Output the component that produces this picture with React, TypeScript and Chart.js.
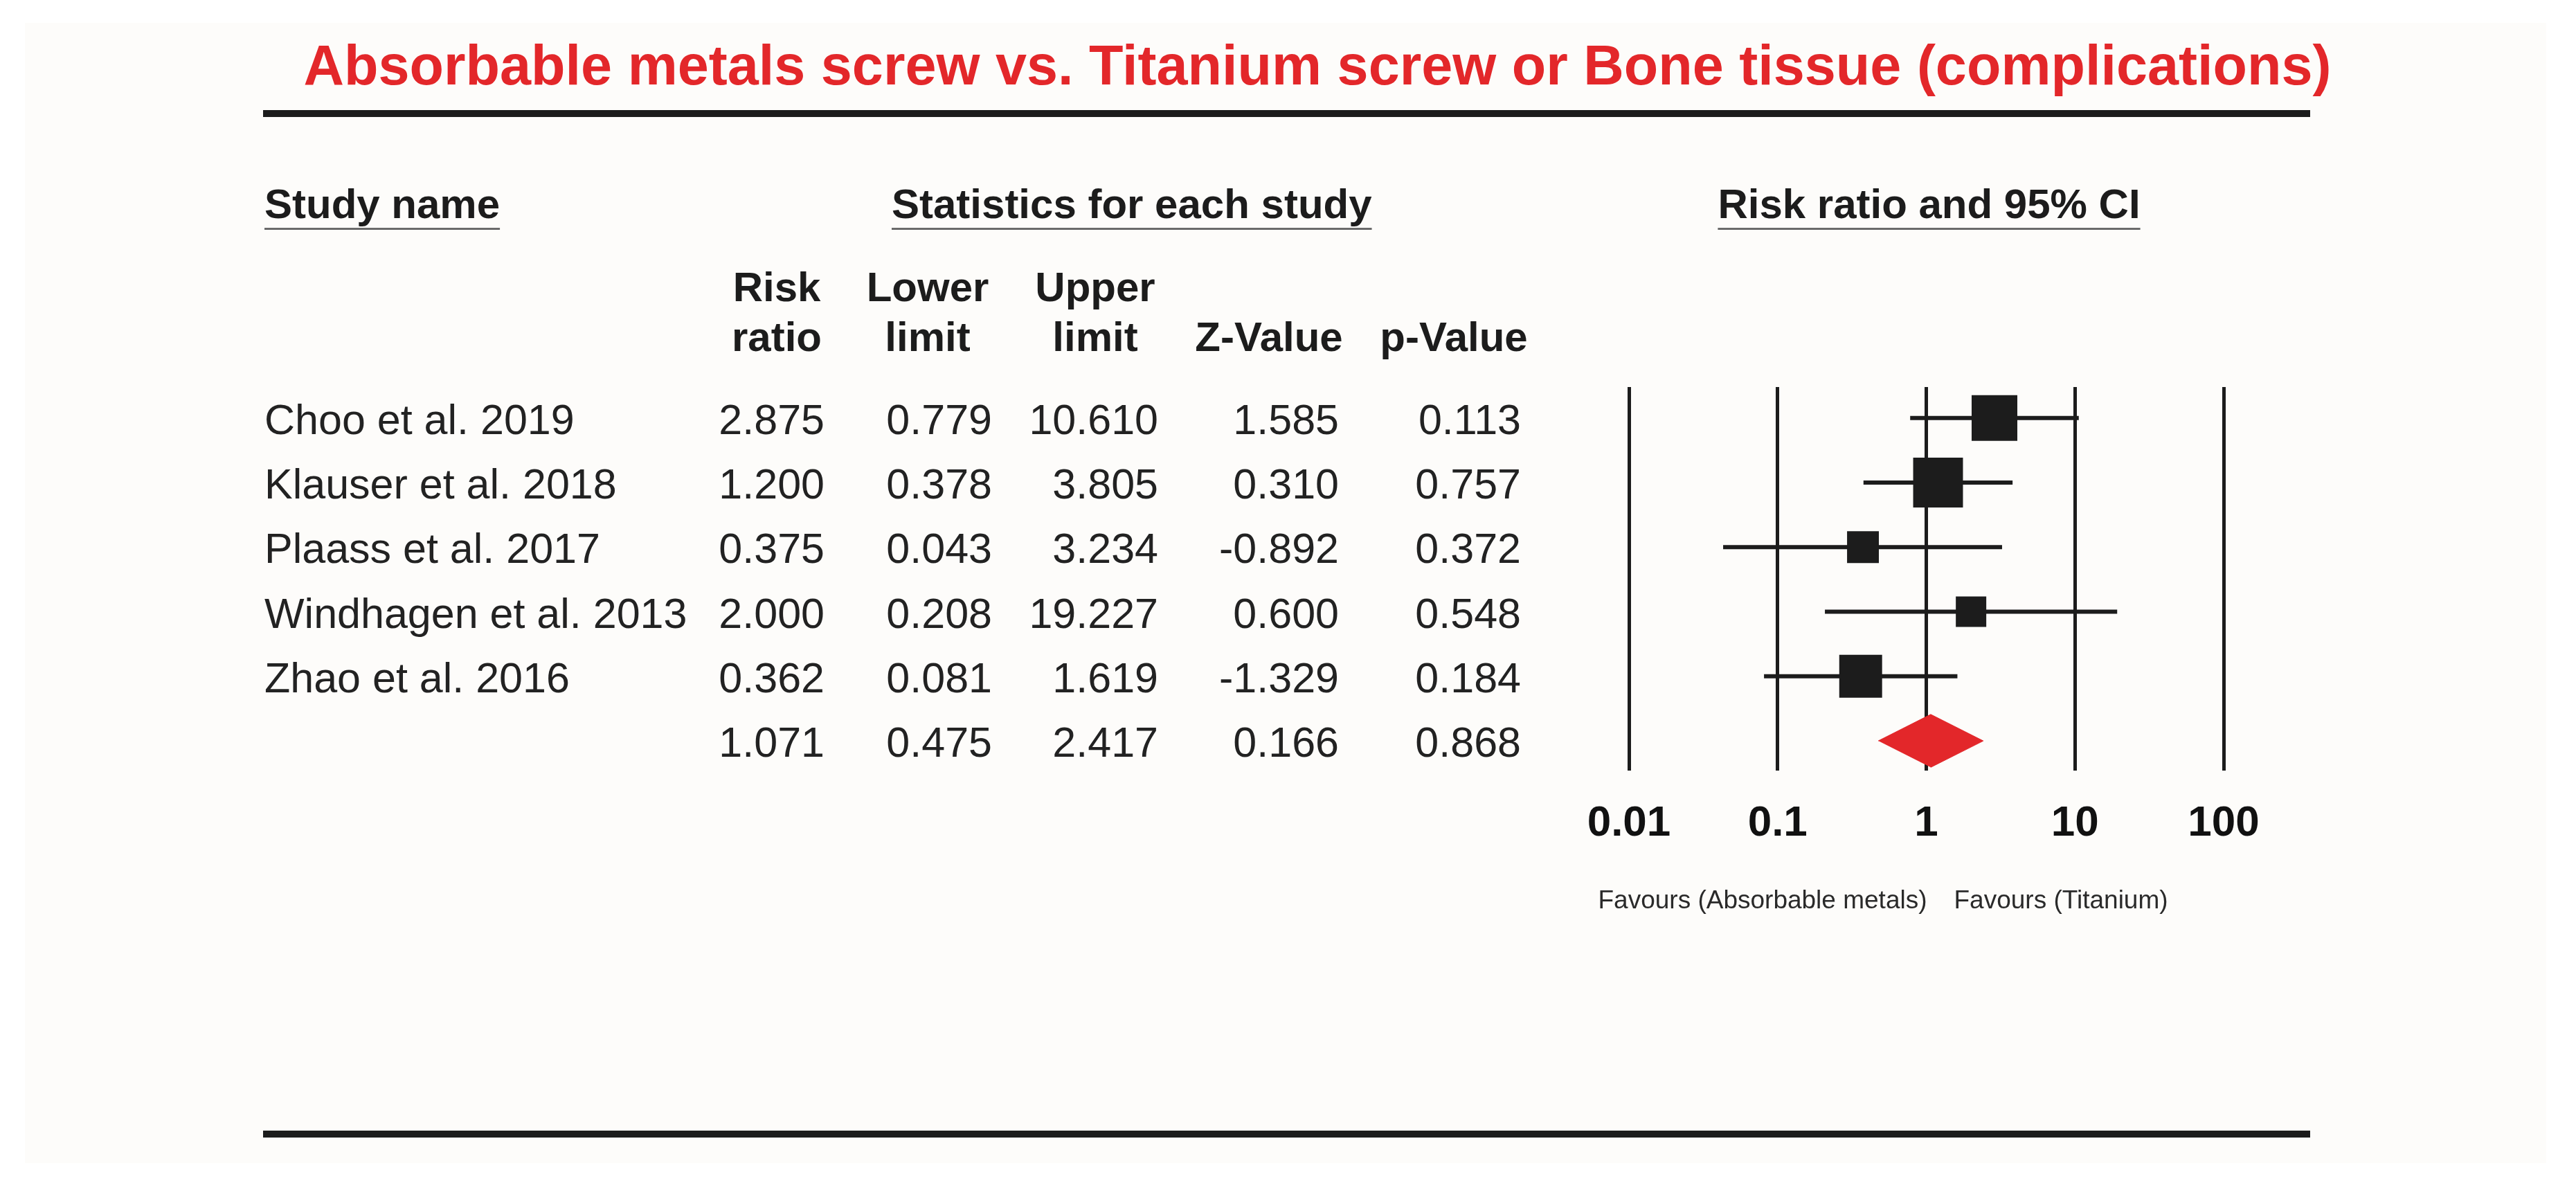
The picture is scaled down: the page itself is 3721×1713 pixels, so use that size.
import React, { useEffect, useRef } from 'react';
import { Chart, registerables } from 'chart.js';

Chart.register(...registerables);

// ---------------- data ----------------
const chartTitle = 'Absorbable metals screw vs. Titanium screw or Bone tissue (complications)';
const studyNames = ['Choo et al. 2019', 'Klauser et al. 2018', 'Plaass et al. 2017', 'Windhagen et al. 2013', 'Zhao et al. 2016'];
const riskRatios = [2.875, 1.2, 0.375, 2.0, 0.362];
const lowerLimits = [0.779, 0.378, 0.043, 0.208, 0.081];
const upperLimits = [10.61, 3.805, 3.234, 19.227, 1.619];
const zValues = [1.585, 0.31, -0.892, 0.6, -1.329];
const pValues = [0.113, 0.757, 0.372, 0.548, 0.184];
// relative study weights
const studyWeights = [25.0, 29.7, 12.1, 11.1, 22.0];
const summaryRiskRatio = 1.071;
const summaryLower = 0.475;
const summaryUpper = 2.417;
const summaryZ = 0.166;
const summaryP = 0.868;
const xTickValues = [0.01, 0.1, 1, 10, 100];
const xTickLabels = ['0.01', '0.1', '1', '10', '100'];
const sectionHeaders = ['Study name', 'Statistics for each study', 'Risk ratio and 95% CI'];
const columnHeadersTop = ['Risk', 'Lower', 'Upper', '', ''];
const columnHeadersBottom = ['ratio', 'limit', 'limit', 'Z-Value', 'p-Value'];
const favoursLeft = 'Favours (Absorbable metals)';
const favoursRight = 'Favours (Titanium)';

// ---------------- layout / style ----------------
const W = 3721;
const H = 1713;
const FONT = '"Liberation Sans", Arial, Helvetica, sans-serif';
const RED = '#e3272a';
const INK = '#1c1c1c';
const plotLeft = 2353;
const plotRight = 3212;
const plotTop = 559;
const plotBottom = 1113;
const xAxisHeight = 200;
const nameX = 382;
const colRight = [1191, 1433, 1673, 1934, 2197];
const colHeaderCenter = [1122, 1340, 1582, 1833, 2100];
const boxScale = 13.2;
const diamondHalf = 0.41;

const tablePlugin = {
  id: 'forestTable',
  beforeDraw(chart: any) {
    const ctx = chart.ctx;
    ctx.save();
    ctx.fillStyle = '#ffffff';
    ctx.fillRect(0, 0, W, H);
    ctx.fillStyle = '#fdfcfa';
    ctx.fillRect(36, 33, 3642, 1647);
    ctx.restore();
  },
  afterDraw(chart: any) {
    const ctx = chart.ctx;
    const xs = chart.scales.x;
    const ys = chart.scales.y;
    ctx.save();
    // title
    ctx.fillStyle = RED;
    ctx.font = `bold 81px ${FONT}`;
    ctx.textAlign = 'center';
    ctx.textBaseline = 'alphabetic';
    ctx.fillText(chartTitle, 1903, 122);
    // rules
    ctx.fillStyle = INK;
    ctx.fillRect(380, 159, 2957, 10);
    ctx.fillRect(380, 1633, 2957, 10);

    // section headers with underline
    ctx.font = `bold 60px ${FONT}`;
    ctx.fillStyle = INK;
    const headerPos: [number, CanvasTextAlign][] = [
      [nameX, 'left'],
      [1288, 'left'],
      [(xs.left + xs.right) / 2 + 4, 'center'],
    ];
    sectionHeaders.forEach((t, i) => {
      const [hx, align] = headerPos[i];
      ctx.textAlign = align;
      ctx.fillStyle = INK;
      ctx.fillText(t, hx, 315);
      const w = ctx.measureText(t).width;
      const lx = align === 'center' ? hx - w / 2 : hx;
      ctx.fillStyle = '#6a6a6a';
      ctx.fillRect(lx, 329, w, 3);
    });

    // column headers
    ctx.fillStyle = INK;
    ctx.textAlign = 'center';
    colHeaderCenter.forEach((cx, i) => {
      if (columnHeadersTop[i]) ctx.fillText(columnHeadersTop[i], cx, 435);
      ctx.fillText(columnHeadersBottom[i], cx, 507);
    });

    // rows
    ctx.font = `61px ${FONT}`;
    ctx.fillStyle = '#222222';
    const rowBaseline = (i: number) => ys.getPixelForValue(i) + 23;
    studyNames.forEach((name, i) => {
      const by = rowBaseline(i);
      ctx.textAlign = 'left';
      ctx.fillText(name, nameX, by);
      ctx.textAlign = 'right';
      const vals = [riskRatios[i], lowerLimits[i], upperLimits[i], zValues[i], pValues[i]];
      vals.forEach((v, c) => ctx.fillText(v.toFixed(3), colRight[c], by));
    });
    const sy = rowBaseline(studyNames.length);
    ctx.textAlign = 'right';
    [summaryRiskRatio, summaryLower, summaryUpper, summaryZ, summaryP].forEach((v, c) =>
      ctx.fillText(v.toFixed(3), colRight[c], sy)
    );

    // favours labels
    ctx.font = `37px ${FONT}`;
    ctx.fillStyle = '#2a2a2a';
    const oneX = xs.getPixelForValue(1);
    ctx.textAlign = 'right';
    ctx.fillText(favoursLeft, oneX + 1, 1312);
    ctx.textAlign = 'left';
    ctx.fillText(favoursRight, oneX + 40, 1312);
    ctx.restore();
  },
};

export default function App() {
  const canvasRef = useRef<HTMLCanvasElement | null>(null);

  useEffect(() => {
    const canvas = canvasRef.current;
    if (!canvas) return;
    const summaryRow = studyNames.length;

    const ciDatasets = studyNames.map((name, i) => ({
      type: 'line' as const,
      label: name + ' CI',
      data: [
        { x: lowerLimits[i], y: i },
        { x: upperLimits[i], y: i },
      ],
      borderColor: INK,
      borderWidth: 6,
      borderCapStyle: 'butt' as const,
      pointRadius: 0,
      fill: false,
      order: 1,
    }));

    const chart = new Chart(canvas, {
      type: 'line',
      data: {
        datasets: [
          {
            type: 'line',
            label: 'Risk ratio',
            data: riskRatios.map((v, i) => ({ x: v, y: i })),
            showLine: false,
            pointStyle: 'rect',
            pointRadius: studyWeights.map((w) => (boxScale * Math.sqrt(w)) / Math.SQRT2),
            pointBackgroundColor: INK,
            pointBorderColor: INK,
            pointBorderWidth: 0,
            order: 0,
          } as any,
          ...ciDatasets,
          {
            type: 'line',
            label: 'Summary',
            data: [
              { x: summaryLower, y: summaryRow },
              { x: summaryRiskRatio, y: summaryRow - diamondHalf },
              { x: summaryUpper, y: summaryRow },
              { x: summaryRiskRatio, y: summaryRow + diamondHalf },
            ],
            borderColor: RED,
            borderWidth: 1,
            backgroundColor: RED,
            fill: 'shape',
            pointRadius: 0,
            tension: 0,
            order: 2,
          } as any,
        ],
      },
      options: {
        animation: false,
        responsive: false,
        devicePixelRatio: 1,
        layout: {
          padding: {
            left: plotLeft,
            top: plotTop,
            right: W - plotRight,
            bottom: H - plotBottom - xAxisHeight,
          },
        },
        plugins: {
          legend: { display: false },
          tooltip: { enabled: false },
        },
        scales: {
          x: {
            type: 'logarithmic',
            min: 0.01,
            max: 100,
            afterBuildTicks: (scale: any) => {
              scale.ticks = xTickValues.map((v) => ({ value: v, major: true }));
            },
            afterFit: (scale: any) => {
              scale.height = xAxisHeight;
            },
            grid: { color: INK, lineWidth: 5, drawTicks: false },
            border: { display: false },
            ticks: {
              callback: (_v: any, i: number) => xTickLabels[i],
              font: { family: FONT, size: 62, weight: 'bold' },
              color: '#111111',
              padding: 40,
              maxRotation: 0,
              autoSkip: false,
            },
          },
          y: {
            type: 'linear',
            display: false,
            reverse: true,
            min: -0.48,
            max: 5.46,
          },
        },
      } as any,
      plugins: [tablePlugin],
    });

    return () => chart.destroy();
  }, []);

  return (
    <div style={{ position: 'fixed', left: 0, top: 0, width: W, height: H, background: '#ffffff' }}>
      <canvas ref={canvasRef} width={W} height={H} style={{ display: 'block', width: W, height: H }} />
    </div>
  );
}
